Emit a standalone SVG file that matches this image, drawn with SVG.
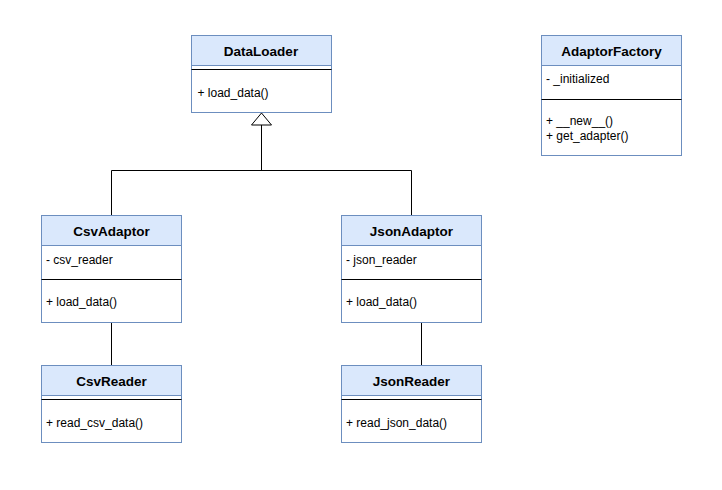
<svg xmlns="http://www.w3.org/2000/svg" width="722" height="490" viewBox="0 0 722 490">
  <style>
    .box { fill: #ffffff; stroke: #6c8ebf; stroke-width: 1; }
    .head { fill: #dae8fc; stroke: #6c8ebf; stroke-width: 1; }
    .div { stroke: #000000; stroke-width: 1; }
    .title { font-family: "Liberation Sans", Arial, sans-serif; font-size: 13.5px; font-weight: bold; fill: #000; text-anchor: middle; }
    .member { font-family: "Liberation Sans", Arial, sans-serif; font-size: 12px; fill: #000; }
    .edge { fill: none; stroke: #000000; stroke-width: 1; }
  </style>
  <rect width="722" height="490" fill="#ffffff"/>

  <g id="connectors">
    <!-- generalization to DataLoader -->
    <path class="edge" d="M111.5 215 V170.5 H411.5 V215"/>
    <path class="edge" d="M261.5 170.5 V125"/>
    <path d="M261.5 113 L271.5 125 L251.5 125 Z" fill="#ffffff" stroke="#000000" stroke-width="1"/>
    <!-- adaptor to reader associations -->
    <path class="edge" d="M111.5 323 V365"/>
    <path class="edge" d="M421.5 323 V365"/>
  </g>

  <g id="DataLoader">
    <rect class="box" x="191.5" y="35.5" width="140" height="77"/>
    <rect class="head" x="191.5" y="35.5" width="140" height="30"/>
    <line class="div" x1="191.5" y1="69.5" x2="331.5" y2="69.5"/>
    <text class="title" x="261" y="55.5">DataLoader</text>
    <text class="member" x="197.5" y="96.5">+ load_data()</text>
  </g>

  <g id="AdaptorFactory">
    <rect class="box" x="541.5" y="35.5" width="140" height="120"/>
    <rect class="head" x="541.5" y="35.5" width="140" height="30"/>
    <line class="div" x1="541.5" y1="99.5" x2="681.5" y2="99.5"/>
    <text class="title" x="611.5" y="55.5">AdaptorFactory</text>
    <text class="member" x="546" y="82.5">- _initialized</text>
    <text class="member" x="546" y="125">+ __new__()</text>
    <text class="member" x="546" y="139.5">+ get_adapter()</text>
  </g>

  <g id="CsvAdaptor">
    <rect class="box" x="41.5" y="215.5" width="140" height="107"/>
    <rect class="head" x="41.5" y="215.5" width="140" height="30"/>
    <line class="div" x1="41.5" y1="279.5" x2="181.5" y2="279.5"/>
    <text class="title" x="111.5" y="235.5">CsvAdaptor</text>
    <text class="member" x="46" y="264">- csv_reader</text>
    <text class="member" x="46" y="306">+ load_data()</text>
  </g>

  <g id="JsonAdaptor">
    <rect class="box" x="341.5" y="215.5" width="140" height="107"/>
    <rect class="head" x="341.5" y="215.5" width="140" height="30"/>
    <line class="div" x1="341.5" y1="279.5" x2="481.5" y2="279.5"/>
    <text class="title" x="411.5" y="235.5">JsonAdaptor</text>
    <text class="member" x="346" y="264">- json_reader</text>
    <text class="member" x="346" y="306">+ load_data()</text>
  </g>

  <g id="CsvReader">
    <rect class="box" x="41.5" y="365.5" width="140" height="77"/>
    <rect class="head" x="41.5" y="365.5" width="140" height="30"/>
    <line class="div" x1="41.5" y1="399.5" x2="181.5" y2="399.5"/>
    <text class="title" x="111.5" y="385.5">CsvReader</text>
    <text class="member" x="46" y="426.5">+ read_csv_data()</text>
  </g>

  <g id="JsonReader">
    <rect class="box" x="341.5" y="365.5" width="140" height="77"/>
    <rect class="head" x="341.5" y="365.5" width="140" height="30"/>
    <line class="div" x1="341.5" y1="399.5" x2="481.5" y2="399.5"/>
    <text class="title" x="411.5" y="385.5">JsonReader</text>
    <text class="member" x="346" y="426.5">+ read_json_data()</text>
  </g>
</svg>
